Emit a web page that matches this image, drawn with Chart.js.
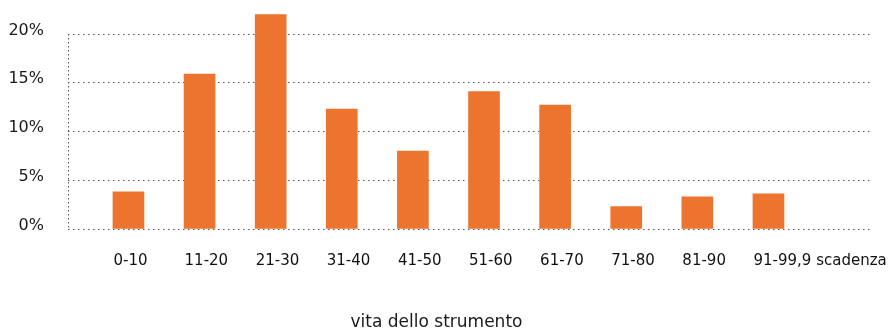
<!DOCTYPE html>
<html>
<head>
<meta charset="utf-8">
<script src="https://cdn.jsdelivr.net/npm/chart.js@4"></script>
<style>
    html, body { margin: 0; padding: 0; background: #fff; }
    #wrap { width: 889px; height: 329px; }
</style>
</head>
<body>
<div id="wrap"><canvas id="chartVita"></canvas></div>
<script>
const ageLabels = ['0-10', '11-20', '21-30', '31-40', '41-50', '51-60', '61-70', '71-80', '81-90', '91-99,9 scadenza'];
const shareValues = [3.8, 15.9, 22.0, 12.3, 8.0, 14.1, 12.7, 2.3, 3.3, 3.6];
const yTicks = [0, 5, 10, 15, 20];
const xTitle = 'vita dello strumento';

function initChart() {
    const ctx = document.getElementById('chartVita');
    // bars sit on a linear x scale so the first bar can start away from the y axis
    const points = shareValues.map((v, i) => ({ x: i, y: v }));

    new Chart(ctx, {
        type: 'bar',
        data: {
            datasets: [{
                data: points,
                backgroundColor: '#ED742E',
                borderWidth: 0,
                barThickness: 31,
                clip: false
            }]
        },
        options: {
            responsive: true,
            maintainAspectRatio: false,
            animation: false,
            layout: { padding: { top: 34, right: 16, bottom: 0, left: 0 } },
            plugins: {
                legend: { display: false },
                tooltip: { enabled: false },
                title: {
                    display: true,
                    text: xTitle,
                    position: 'bottom',
                    color: '#1a1a1a',
                    padding: 0,
                    font: { family: 'DejaVu Sans', size: 17, weight: 'normal', lineHeight: 0.8 }
                }
            },
            scales: {
                x: {
                    type: 'linear',
                    min: -0.85,
                    max: 10.47,
                    offset: false,
                    // only the first grid line is shown: it is the dotted y axis line
                    grid: {
                        display: true,
                        offset: false,
                        drawTicks: false,
                        lineWidth: 1,
                        color: (c) => c.index === 0 ? '#555' : 'rgba(0,0,0,0)'
                    },
                    border: { display: false, dash: [1.5, 2.5] },
                    afterBuildTicks: (scale) => {
                        scale.ticks = [{ value: scale.min }].concat(ageLabels.map((l, i) => ({ value: i })));
                    },
                    afterFit: (scale) => {
                        scale.height = 86.4;
                        scale.paddingLeft = 0;
                        scale.paddingRight = 0;
                    },
                    ticks: {
                        autoSkip: false,
                        maxRotation: 0,
                        minRotation: 0,
                        align: 'start',
                        labelOffset: -15,
                        padding: 23,
                        color: '#111',
                        font: { family: 'DejaVu Sans', size: 15 },
                        callback: (value) => ageLabels[value] || ''
                    }
                },
                y: {
                    min: 0,
                    max: 20,
                    afterBuildTicks: (scale) => {
                        scale.ticks = yTicks.map(v => ({ value: v }));
                    },
                    afterFit: (scale) => {
                        scale.width = 68;
                    },
                    grid: { color: '#555', lineWidth: 1, drawTicks: false },
                    border: { display: false, dash: [1.5, 3.5] },
                    ticks: {
                        padding: 24,
                        labelOffset: -3.5,
                        color: '#1a1a1a',
                        font: { family: 'DejaVu Sans', size: 16 },
                        callback: (value) => value + '%'
                    }
                }
            }
        }
    });
}

window.addEventListener('load', initChart);
</script>
</body>
</html>
